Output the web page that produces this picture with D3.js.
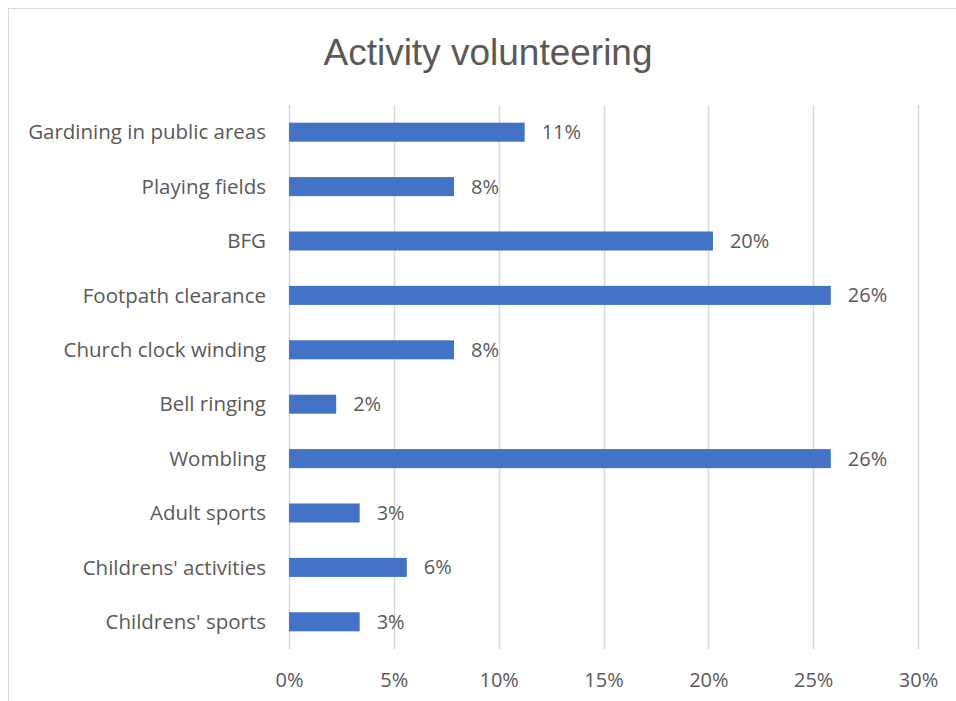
<!DOCTYPE html>
<html>
<head>
<meta charset="utf-8">
<script src="https://cdn.jsdelivr.net/npm/d3@7"></script>
<style>
  body { margin: 0; background: #fff; }
  text { font-family: "Open Sans", sans-serif; fill: #595959; }
</style>
</head>
<body>
<script>
// data
var categories = ["Gardining in public areas", "Playing fields", "BFG", "Footpath clearance",
  "Church clock winding", "Bell ringing", "Wombling", "Adult sports",
  "Childrens' activities", "Childrens' sports"];
var values = [0.1124, 0.0787, 0.2022, 0.2584, 0.0787, 0.0225, 0.2584, 0.0337, 0.0562, 0.0337];
var tickValues = [0, 0.05, 0.10, 0.15, 0.20, 0.25, 0.30];

var width = 956,
    height = 701;

var svg = d3.select("body").append("svg")
  .attr("width", width)
  .attr("height", height);

// chart border
svg.append("rect")
  .attr("x", 8.5).attr("y", 8.5)
  .attr("width", 960).attr("height", 720)
  .attr("fill", "none")
  .attr("stroke", "#d9d9d9");

svg.append("text")
  .attr("x", 488).attr("y", 65)
  .attr("text-anchor", "middle")
  .style("font-family", "'Liberation Sans', Arial, sans-serif")
  .style("font-size", "37px")
  .text("Activity volunteering");

var x = d3.scaleLinear().domain([0, 0.30]).range([289, 918]);
var y = d3.scaleBand().domain(categories).range([105, 649])
  .paddingInner(0.65).paddingOuter(0.325);

// gridlines
svg.append("g").selectAll("line")
  .data(tickValues).enter().append("line")
  .attr("x1", function(d) { return Math.round(x(d)) + 0.5; })
  .attr("x2", function(d) { return Math.round(x(d)) + 0.5; })
  .attr("y1", 105).attr("y2", 649)
  .attr("stroke", "#d9d9d9")
  .attr("stroke-width", 1.5);

// x tick labels
var xAxis = d3.axisBottom(x).tickValues(tickValues)
  .tickFormat(d3.format(".0%")).tickSize(0).tickPadding(0);
var gx = svg.append("g").attr("transform", "translate(0,687)").call(xAxis);
gx.select(".domain").remove();
gx.selectAll("text").attr("dy", 0).style("font-size", "20px")
  .style("font-family", "'Open Sans', sans-serif").style("fill", "#595959");

// category labels
var yAxis = d3.axisLeft(y).tickSize(0).tickPadding(0);
var gy = svg.append("g").attr("transform", "translate(266,0)").call(yAxis);
gy.select(".domain").remove();
gy.selectAll("text").attr("dy", "0.35em").style("font-size", "20.5px")
  .style("font-family", "'Open Sans', sans-serif").style("fill", "#595959");

// bars
svg.append("g").selectAll("rect")
  .data(values).enter().append("rect")
  .attr("x", x(0))
  .attr("y", function(d, i) { return y(categories[i]); })
  .attr("width", function(d) { return x(d) - x(0); })
  .attr("height", y.bandwidth())
  .attr("fill", "#4472c4");

// value labels
svg.append("g").selectAll("text")
  .data(values).enter().append("text")
  .attr("x", function(d) { return x(d) + 17; })
  .attr("y", function(d, i) { return y(categories[i]) + y.bandwidth() / 2; })
  .attr("dy", "0.35em")
  .style("font-size", "20px")
  .text(function(d) { return d3.format(".0%")(d); });
</script>
</body>
</html>
